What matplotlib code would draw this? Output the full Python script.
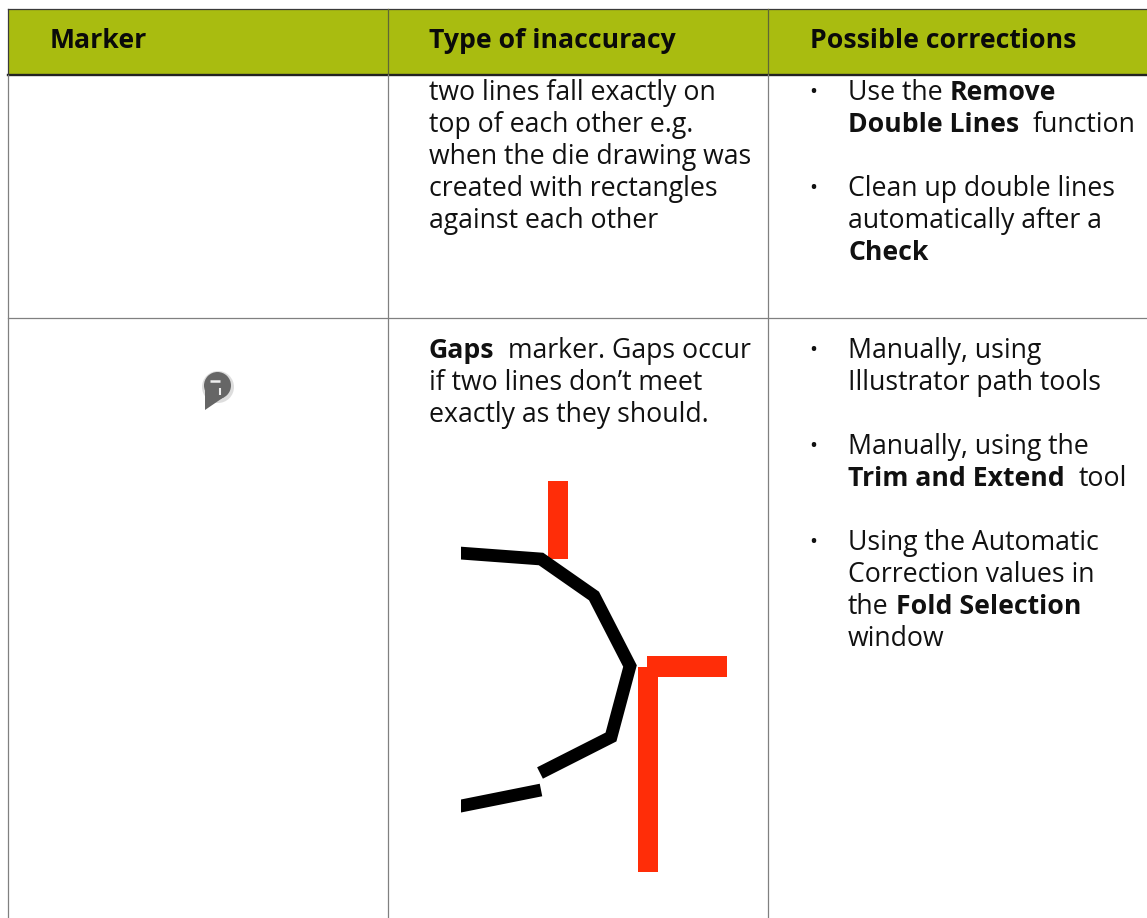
import matplotlib

matplotlib.use("Agg")
import matplotlib.pyplot as plt
from matplotlib.patches import Circle, Polygon, Rectangle

WIDTH = 1147
HEIGHT = 918
FONT = "Open Sans"
SIZE = 19.2

HEADER_COLOR = "#a9bc10"
RED = "#ff2d08"
ICON_GREY = "#666666"
LINE_GREY = "#808080"

headers = ["Marker", "Type of inaccuracy", "Possible corrections"]
header_x = [50, 429, 810]

# each line is a list of (text, bold) runs, with its baseline in pixels
inaccuracy_lines = [
    (100, [("two lines fall exactly on", False)]),
    (132, [("top of each other e.g.", False)]),
    (164, [("when the die drawing was", False)]),
    (196, [("created with rectangles", False)]),
    (228, [("against each other", False)]),
    (358, [("Gaps", True), ("  marker. Gaps occur", False)]),
    (390, [("if two lines don’t meet", False)]),
    (422, [("exactly as they should.", False)]),
]
correction_lines = [
    (100, [("Use the ", False), ("Remove", True)]),
    (132, [("Double Lines", True), ("  function", False)]),
    (196, [("Clean up double lines", False)]),
    (228, [("automatically after a", False)]),
    (260, [("Check", True)]),
    (358, [("Manually, using", False)]),
    (390, [("Illustrator path tools", False)]),
    (454, [("Manually, using the", False)]),
    (486, [("Trim and Extend", True), ("  tool", False)]),
    (550, [("Using the Automatic", False)]),
    (582, [("Correction values in", False)]),
    (614, [("the ", False), ("Fold Selection", True)]),
    (646, [("window", False)]),
]
bullet_baselines = [100, 196, 358, 454, 550]

black_upper_x = [450, 541, 594, 630, 611, 540]
black_upper_y = [552.3, 559, 596, 666, 737, 773]
black_lower_x = [450, 541]
black_lower_y = [808.2, 790]

# x, y, width, height of the red die lines
red_bars = [
    (548, 481, 20, 78),
    (647, 656, 80, 21),
    (638, 667, 20, 205),
]


def draw_runs(ax, renderer, x, y, runs):
    for text, bold in runs:
        stripped = text.lstrip()
        # leading and trailing spaces are not measured, so add them by hand
        x += (len(text) - len(stripped)) * SIZE * 0.36
        label = ax.text(
            x,
            y,
            stripped.rstrip(),
            fontsize=SIZE,
            family=FONT,
            fontweight="bold" if bold else "normal",
            color="#111111",
            va="baseline",
            ha="left",
        )
        box = label.get_window_extent(renderer)
        x += box.width + (len(stripped) - len(stripped.rstrip())) * SIZE * 0.36


fig = plt.figure(figsize=(WIDTH / 100, HEIGHT / 100), dpi=100)
ax = fig.add_axes([0, 0, 1, 1])
ax.set_xlim(0, WIDTH)
ax.set_ylim(HEIGHT, 0)
ax.axis("off")
renderer = fig.canvas.get_renderer()

# table frame
ax.add_patch(Rectangle((8, 9), WIDTH - 8, 66, facecolor=HEADER_COLOR, edgecolor="none"))
ax.plot([8, WIDTH], [9, 9], color="#3a3a3a", lw=0.9)
ax.plot([8, WIDTH], [74.8, 74.8], color="#222222", lw=1.7)
ax.plot([8, 8], [9, 75], color="#3a3a3a", lw=0.9)
ax.plot([8, 8], [75, HEIGHT], color=LINE_GREY, lw=0.9)
for x in [388, 768]:
    ax.plot([x, x], [9, 75], color="#5f6636", lw=0.9)
    ax.plot([x, x], [75, HEIGHT], color=LINE_GREY, lw=0.9)
ax.plot([8, WIDTH], [317.5, 317.5], color=LINE_GREY, lw=0.9)

for x, text in zip(header_x, headers):
    ax.text(
        x,
        48,
        text,
        fontsize=SIZE,
        family=FONT,
        fontweight="bold",
        color="#0a0a0a",
        va="baseline",
    )

for y, runs in inaccuracy_lines:
    draw_runs(ax, renderer, 429, y, runs)
for y, runs in correction_lines:
    draw_runs(ax, renderer, 848, y, runs)
for y in bullet_baselines:
    ax.text(813, y - 2, "•", fontsize=SIZE * 0.8, family=FONT, color="#111111", ha="center", va="baseline")

# gaps marker icon, a soft halo stands in for the blur of the small bitmap
ax.add_patch(Circle((218, 387), 16, facecolor=ICON_GREY, edgecolor="none", alpha=0.22))
ax.add_patch(Circle((217.5, 385.5), 13.5, facecolor=ICON_GREY, edgecolor="none"))
ax.add_patch(Polygon([(205, 390), (205, 410), (224, 397)], facecolor=ICON_GREY, edgecolor="none"))
ax.plot([210, 220], [381, 381], color="white", lw=1.8, solid_capstyle="butt", alpha=0.9)
ax.plot([220.3, 220.3], [388, 395], color="white", lw=1.5, solid_capstyle="butt", alpha=0.9)

# gap illustration, the black curve is cut off on its left side
for x, y, w, h in red_bars:
    ax.add_patch(Rectangle((x, y), w, h, facecolor=RED, edgecolor="none"))
clip = Rectangle((461, 500), 200, 330, transform=ax.transData)
for xs, ys in [(black_upper_x, black_upper_y), (black_lower_x, black_lower_y)]:
    line, = ax.plot(xs, ys, color="black", lw=9.2, solid_capstyle="butt", solid_joinstyle="miter")
    line.set_clip_path(clip)

fig.savefig("out.png", dpi=100)
